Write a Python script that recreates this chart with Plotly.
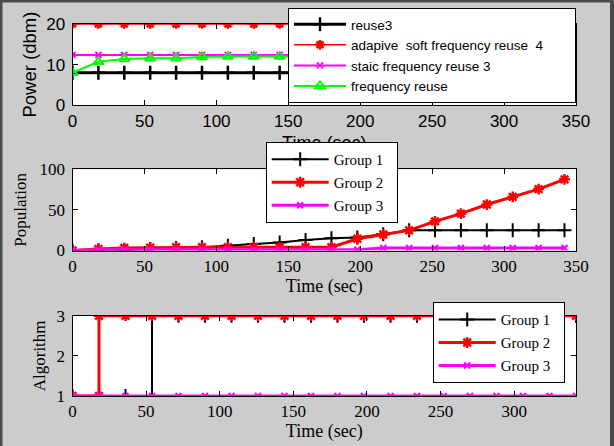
import plotly.graph_objects as go

W, H = 614, 446

# ---------------- data ----------------
time = [0, 18, 36, 54, 72, 90, 108, 126, 144, 162, 180, 198, 216, 234, 252, 270, 288, 306, 324, 342]

# panel 1: power (dbm)
p_reuse3 = [8, 8, 8, 8, 8, 8, 8, 8, 8, 8, 8, 8, 8, 8, 8, 8, 8, 8, 8, 8]
p_adaptive = [20, 20, 20, 20, 20, 20, 20, 20, 20, 20, 20, 20, 20, 20, 20, 20, 20, 20, 20, 20]
p_static = [12.4, 12.4, 12.4, 12.4, 12.4, 12.4, 12.4, 12.4, 12.4, 12.4, 12.4, 12.4, 12.4, 12.4, 12.4, 12.4, 12.4, 12.4, 12.4, 12.4]
p_freq = [8, 10.7, 11.4, 11.6, 11.6, 11.9, 12, 12, 12, 12, 12, 12, 12, 12, 12, 12, 12, 12, 12, 12]

# panel 2: population
pop_g1 = [0, 0, 0, 2, 3, 4, 6, 8, 10, 13, 15, 16, 20, 25, 25, 25, 25, 25, 25, 25]
pop_g2 = [0, 2, 3, 3.5, 4, 4, 4, 4, 4, 4, 4, 14.5, 19.8, 24.8, 35.9, 45.4, 56.6, 66, 75.6, 87.6]
pop_g3 = [0, 1, 1, 1, 1, 1, 1, 1, 1, 1, 1, 1, 3, 3, 3, 3, 3, 3, 3, 3]

# panel 3: algorithm (switch events produce repeated time stamps)
alg_t1 = [0, 18, 36, 54, 54, 72, 90, 108, 126, 144, 162, 180, 198, 216, 234, 252, 270, 288, 306, 324, 342]
alg_g1 = [1, 1, 1, 1, 3, 3, 3, 3, 3, 3, 3, 3, 3, 3, 3, 3, 3, 3, 3, 3, 3]
alg_t2 = [0, 18, 18, 36, 54, 72, 90, 108, 126, 144, 162, 180, 198, 216, 234, 252, 270, 288, 306, 324, 342]
alg_g2 = [1, 1, 3, 3, 3, 3, 3, 3, 3, 3, 3, 3, 3, 3, 3, 3, 3, 3, 3, 3, 3]
alg_g3 = [1, 1, 1, 1, 1, 1, 1, 1, 1, 1, 1, 1, 1, 1, 1, 1, 1, 1, 1, 1]

names1 = ["reuse3", "adapive  soft frequency reuse  4", "staic frequency reuse 3", "frequency reuse"]
names_grp = ["Group 1", "Group 2", "Group 3"]

x_ticks = [0, 50, 100, 150, 200, 250, 300, 350]
time_title = "Time (sec)"

# ---------------- style ----------------
BLACK, RED, MAG, GREEN = "#000000", "#ff0000", "#ff00ff", "#00ff00"
SANS = "Liberation Sans, Arial, sans-serif"
SERIF = "Liberation Serif, Times New Roman, serif"

def px_x(p):
    return p / W

def px_y(p):
    return 1 - p / H

# trailing padding widens the legend boxes to the reference's width
PAD1 = " " * 7
PAD2 = " " * 2

fig = go.Figure()

# panel 1
fig.add_trace(go.Scatter(x=time, y=p_reuse3, name=names1[0], mode="lines+markers",
                         line=dict(color=BLACK, width=3),
                         marker=dict(symbol="cross-thin-open", size=10, line=dict(color=BLACK, width=2.5)),
                         xaxis="x", yaxis="y", legend="legend"))
fig.add_trace(go.Scatter(x=time, y=p_adaptive, name=names1[1] + PAD1, mode="lines+markers",
                         line=dict(color=RED, width=1.5),
                         marker=dict(symbol="asterisk-open", size=8, line=dict(color=RED, width=2.5)),
                         xaxis="x", yaxis="y", legend="legend"))
fig.add_trace(go.Scatter(x=time, y=p_static, name=names1[2], mode="lines+markers",
                         line=dict(color=MAG, width=2),
                         marker=dict(symbol="x-thin-open", size=6, line=dict(color=MAG, width=2)),
                         xaxis="x", yaxis="y", legend="legend"))
fig.add_trace(go.Scatter(x=time, y=p_freq, name=names1[3], mode="lines+markers",
                         line=dict(color=GREEN, width=2),
                         marker=dict(symbol="triangle-up-open", size=9, line=dict(color=GREEN, width=2)),
                         xaxis="x", yaxis="y", legend="legend"))
# empty helper trace for the overlay axis that carries panel-1's x title
fig.add_trace(go.Scatter(x=[], y=[], showlegend=False, hoverinfo="skip", xaxis="x4", yaxis="y"))

# panel 2
fig.add_trace(go.Scatter(x=time, y=pop_g1, name=names_grp[0], mode="lines+markers",
                         line=dict(color=BLACK, width=2),
                         marker=dict(symbol="cross-thin-open", size=10, line=dict(color=BLACK, width=2)),
                         xaxis="x2", yaxis="y2", legend="legend2", legendgroup="b1"))
fig.add_trace(go.Scatter(x=time, y=pop_g2, name=names_grp[1] + PAD2, mode="lines+markers",
                         line=dict(color=RED, width=3),
                         marker=dict(symbol="asterisk-open", size=9, line=dict(color=RED, width=2.5)),
                         xaxis="x2", yaxis="y2", legend="legend2", legendgroup="b2"))
fig.add_trace(go.Scatter(x=time, y=pop_g3, name=names_grp[2], mode="lines+markers",
                         line=dict(color=MAG, width=3),
                         marker=dict(symbol="x-thin-open", size=6, line=dict(color=MAG, width=2)),
                         xaxis="x2", yaxis="y2", legend="legend2", legendgroup="b3"))

# panel 3
fig.add_trace(go.Scatter(x=alg_t1, y=alg_g1, name=names_grp[0], mode="lines+markers",
                         line=dict(color=BLACK, width=2),
                         marker=dict(symbol="cross-thin-open", size=10, line=dict(color=BLACK, width=2)),
                         xaxis="x3", yaxis="y3", legend="legend3", legendgroup="c1"))
fig.add_trace(go.Scatter(x=alg_t2, y=alg_g2, name=names_grp[1] + PAD2, mode="lines+markers",
                         line=dict(color=RED, width=3),
                         marker=dict(symbol="asterisk-open", size=9, line=dict(color=RED, width=2.5)),
                         xaxis="x3", yaxis="y3", legend="legend3", legendgroup="c2"))
fig.add_trace(go.Scatter(x=time, y=alg_g3, name=names_grp[2], mode="lines+markers",
                         line=dict(color=MAG, width=3),
                         marker=dict(symbol="x-thin-open", size=6, line=dict(color=MAG, width=2)),
                         xaxis="x3", yaxis="y3", legend="legend3", legendgroup="c3"))

def xax(domain_px, rng, font, tickvals, title, anchor, standoff):
    return dict(domain=[px_x(domain_px[0]), px_x(domain_px[1])], range=rng, anchor=anchor,
                tickvals=tickvals, ticks="inside", ticklen=5, tickcolor="black",
                showline=True, linecolor="black", linewidth=1, mirror="ticks",
                showgrid=False, zeroline=False, automargin=False,
                tickfont=dict(family=font[0], size=font[1], color="black"),
                title=dict(text=title, font=dict(family=font[0], size=font[2], color="black"), standoff=standoff),
                ticklabelstandoff=0)

def yax(domain_px, rng, font, tickvals, title, anchor, standoff):
    return dict(domain=[px_y(domain_px[1]), px_y(domain_px[0])], range=rng, anchor=anchor,
                tickvals=tickvals, ticks="inside", ticklen=5, tickcolor="black",
                showline=True, linecolor="black", linewidth=1, mirror="ticks",
                showgrid=False, zeroline=False, automargin=False,
                tickfont=dict(family=font[0], size=font[1], color="black"),
                title=dict(text=title, font=dict(family=font[0], size=font[2], color="black"), standoff=standoff),
                ticklabelstandoff=3)

XL, XR = 72.5, 576

leg_common = dict(xanchor="left", yanchor="top", bgcolor="white", bordercolor="black", borderwidth=1)

fig.update_layout(
    template="none",
    width=W, height=H, margin=dict(l=0, r=0, t=0, b=0, autoexpand=False),
    paper_bgcolor="#cccccc", plot_bgcolor="white",
    xaxis=xax((XL, XR), [0, 350], (SANS, 17, 18), x_ticks, None, "y", 6),
    xaxis4=dict(overlaying="x", anchor="y", side="bottom", range=[0, 350],
                tickvals=[175], ticktext=[time_title], ticks="", showline=False,
                showgrid=False, zeroline=False, automargin=False, ticklabelstandoff=25,
                tickfont=dict(family=SANS, size=18, color="black")),
    yaxis=yax((24, 105.3), [0, 20], (SANS, 17, 18.5), [0, 10, 20], "Power (dbm)", "x", 4),
    xaxis2=xax((XL, XR), [0, 350], (SERIF, 17, 18), x_ticks, time_title, "y2", 3),
    yaxis2=yax((169.3, 250.5), [0, 100], (SERIF, 17, 17), [0, 50, 100], "Population", "x2", 8),
    xaxis3=xax((XL, XR), [0, 342], (SERIF, 17, 18), x_ticks[:-1], time_title, "y3", 3),
    yaxis3=yax((315.7, 396), [1, 3], (SERIF, 17, 17), [1, 2, 3], "Algorithm", "x3", 6),
    legend=dict(x=px_x(288), y=px_y(8), font=dict(family=SANS, size=13.5, color="black"),
                itemwidth=52, **leg_common),
    legend2=dict(x=px_x(265.7), y=px_y(142), font=dict(family=SERIF, size=15, color="black"),
                 itemwidth=57, tracegroupgap=0.5, **leg_common),
    legend3=dict(x=px_x(432.7), y=px_y(302.3), font=dict(family=SERIF, size=15, color="black"),
                 itemwidth=57, tracegroupgap=0.5, **leg_common),
    shapes=[
        dict(type="rect", xref="paper", yref="paper", x0=0, x1=px_x(2.5), y0=0, y1=1,
             fillcolor="#4a4a4a", line=dict(width=0), layer="above"),
        dict(type="rect", xref="paper", yref="paper", x0=0, x1=1, y0=px_y(2.5), y1=1,
             fillcolor="#4a4a4a", line=dict(width=0), layer="above"),
        dict(type="rect", xref="paper", yref="paper", x0=px_x(610), x1=1, y0=0, y1=1,
             fillcolor="#4a4a4a", line=dict(width=0), layer="above"),
    ],
)

fig.write_html("out.html")
